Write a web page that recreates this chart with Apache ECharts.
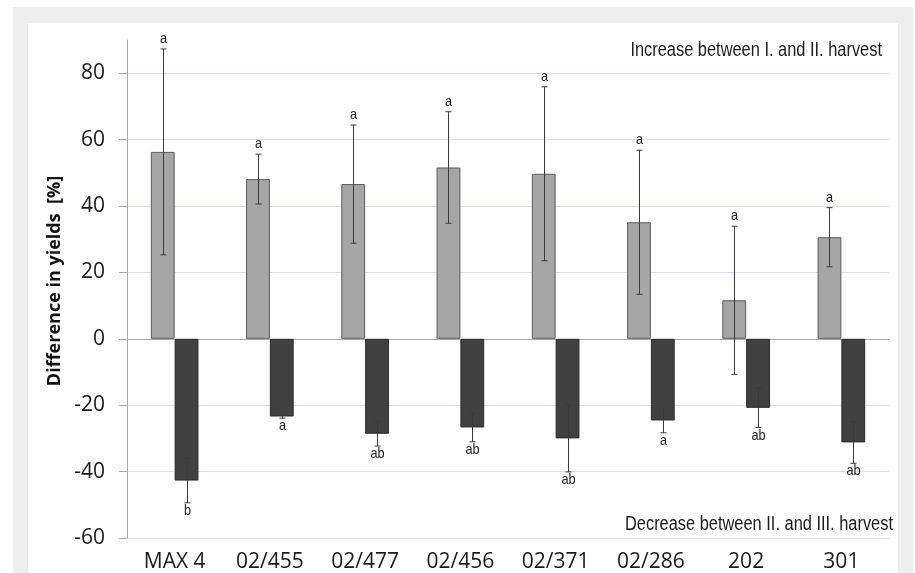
<!DOCTYPE html>
<html>
<head>
<meta charset="utf-8">
<script src="https://cdn.jsdelivr.net/npm/echarts@6/dist/echarts.min.js"></script>
<style>
  html, body { margin: 0; padding: 0; background: #ffffff; }
  #frame { position: absolute; left: 13px; top: 7px; width: 900px; height: 566px; background: #eeeeee; }
  #panel { position: absolute; left: 28px; top: 23px; width: 870px; height: 550px; background: #ffffff; }
  #chart { position: absolute; left: 0; top: 0; width: 915px; height: 573px; }
</style>
</head>
<body>
<div id="frame"></div>
<div id="panel"></div>
<div id="chart"></div>
<script>
// Cultivars / breeding lines
const categories = ['MAX 4', '02/455', '02/477', '02/456', '02/371', '02/286', '202', '301'];

// Increase between I. and II. harvest [%] with standard deviation
const increase = [56.3, 48.1, 46.6, 51.6, 49.7, 35.1, 11.6, 30.6];
const increaseErr = [31.0, 7.5, 17.8, 16.8, 26.2, 21.7, 22.3, 8.9];
const increaseLetters = ['a', 'a', 'a', 'a', 'a', 'a', 'a', 'a'];

// Decrease between II. and III. harvest [%] with standard deviation
const decrease = [-42.7, -23.4, -28.6, -26.7, -30.0, -24.6, -20.8, -31.2];
const decreaseErr = [6.7, 0.5, 3.7, 4.3, 10.1, 3.7, 5.9, 6.3];
const decreaseLetters = ['b', 'a', 'ab', 'ab', 'ab', 'a', 'ab', 'ab'];

// Value axis ticks
const yTicks = [-60, -40, -20, 0, 20, 40, 60, 80];
const yMin = -60, yMax = 90, yStep = 20;

const sans = '"Liberation Sans", Arial, sans-serif';

const chart = echarts.init(document.getElementById('chart'), null, { renderer: 'canvas' });

// Error bar with letter label; side = -1 for the left bar in a group, +1 for the right one
function errorBars(side, upward) {
  return function (params, api) {
    const i = api.value(0), v = api.value(1), e = api.value(2);
    const band = api.size([1, 0])[0];
    const dx = side * band * 0.125;
    const hi = api.coord([i, v + e]);
    const lo = api.coord([i, v - e]);
    const x = Math.round(hi[0] + dx) + 0.5;
    const cap = 3;
    const stroke = { stroke: '#3a3a3a', lineWidth: 1 };
    const letter = upward ? increaseLetters[i] : decreaseLetters[i];
    return {
      type: 'group',
      children: [
        { type: 'line', shape: { x1: x, y1: hi[1], x2: x, y2: lo[1] }, style: stroke },
        { type: 'line', shape: { x1: x - cap, y1: hi[1], x2: x + cap, y2: hi[1] }, style: stroke },
        { type: 'line', shape: { x1: x - cap, y1: lo[1], x2: x + cap, y2: lo[1] }, style: stroke },
        {
          type: 'text',
          x: x,
          y: upward ? hi[1] - 10 : lo[1] + 8,
          scaleX: 0.85,
          style: {
            text: letter,
            x: 0, y: 0,
            align: 'center',
            verticalAlign: 'middle',
            font: '15px ' + sans,
            fill: '#222222'
          }
        }
      ]
    };
  };
}

const gridLines = yTicks.filter(v => v !== 0).map(v => ({ yAxis: v }));

chart.setOption({
  backgroundColor: 'transparent',
  animation: false,
  grid: { left: 127, right: 26, top: 40, bottom: 33, containLabel: false },
  graphic: [
    {
      type: 'text', x: 882, y: 50, scaleX: 0.82,
      style: {
        text: 'Increase between I. and II. harvest', font: '20px ' + sans, fill: '#1a1a1a',
        align: 'right', verticalAlign: 'middle'
      }
    },
    {
      type: 'text', x: 893, y: 524, scaleX: 0.82,
      style: {
        text: 'Decrease between II. and III. harvest', font: '20px ' + sans, fill: '#1a1a1a',
        align: 'right', verticalAlign: 'middle'
      }
    },
    {
      type: 'text', x: 55, y: 281, rotation: Math.PI / 2,
      style: {
        text: 'Difference in yields  [%]',
        font: 'bold 18px "Open Sans", sans-serif', fill: '#111111',
        align: 'center', verticalAlign: 'middle'
      }
    }
  ],
  xAxis: {
    type: 'category',
    data: categories,
    axisLine: { onZero: true, lineStyle: { color: '#a8a8a8', width: 1 } },
    axisTick: { show: false },
    axisLabel: {
      interval: 0, margin: 14,
      fontFamily: '"Open Sans", sans-serif', fontSize: 21, color: '#1a1a1a'
    },
    splitLine: { show: false }
  },
  yAxis: {
    type: 'value',
    min: yMin, max: yMax, interval: yStep,
    axisLine: { show: true, lineStyle: { color: '#a8a8a8', width: 1 } },
    axisTick: { show: true, length: 8, lineStyle: { color: '#a8a8a8' }, customValues: yTicks },
    axisLabel: {
      margin: 22, customValues: yTicks,
      fontFamily: '"Open Sans", sans-serif', fontSize: 21, color: '#1a1a1a'
    },
    splitLine: { show: false }
  },
  series: [
    {
      name: 'Increase between I. and II. harvest',
      type: 'bar',
      data: increase,
      barWidth: '25%',
      barGap: '0%',
      itemStyle: { color: '#a6a6a6', borderColor: '#5a5a5a', borderWidth: 1 },
      markLine: {
        silent: true, symbol: 'none', label: { show: false },
        lineStyle: { color: '#d8dbef', type: 'solid', width: 1 },
        data: gridLines,
        z: 0
      },
      z: 3
    },
    {
      name: 'Decrease between II. and III. harvest',
      type: 'bar',
      data: decrease,
      barWidth: '25%',
      barGap: '0%',
      itemStyle: { color: '#404040', borderColor: '#2a2a2a', borderWidth: 1 },
      z: 3
    },
    {
      type: 'custom',
      renderItem: errorBars(-1, true),
      data: increase.map((v, i) => [i, v, increaseErr[i]]),
      encode: { x: 0, y: 1 },
      z: 5
    },
    {
      type: 'custom',
      renderItem: errorBars(1, false),
      data: decrease.map((v, i) => [i, v, decreaseErr[i]]),
      encode: { x: 0, y: 1 },
      z: 5
    }
  ]
});
</script>
</body>
</html>
